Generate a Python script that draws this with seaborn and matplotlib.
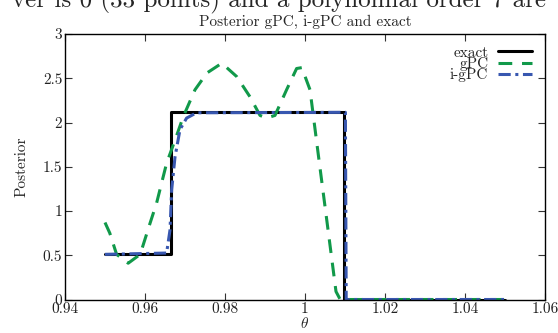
import matplotlib
matplotlib.use("Agg")
import matplotlib.pyplot as plt
import seaborn as sns
import pandas as pd

# ---- data ----
theta_exact = [0.95, 0.9666, 0.9666, 1.0098, 1.0098, 1.05]
post_exact = [0.51, 0.51, 2.115, 2.115, 0.0, 0.0]

theta_gpc = [0.95, 0.9512, 0.9529, 0.9558, 0.9588, 0.96125, 0.9629, 0.9654,
             0.9675, 0.9696, 0.9725, 0.9755, 0.9792, 0.9829, 0.98625, 0.98875,
             0.9904, 0.9925, 0.9954, 0.9979, 0.9992, 1.00125, 1.0034, 1.00555,
             1.00775, 1.0088, 1.01, 1.05]
post_gpc = [0.87, 0.75, 0.51, 0.41, 0.51, 0.86, 1.09, 1.54,
            1.80, 2.07, 2.37, 2.56, 2.67, 2.52, 2.29, 2.08,
            2.05, 2.08, 2.37, 2.61, 2.62, 2.37, 1.61, 0.86,
            0.09, 0.0, 0.0, 0.0]

theta_igpc = [0.95, 0.9654, 0.96625, 0.96667, 0.9675, 0.96875, 0.9704, 0.9729,
              1.0101, 1.0103, 1.05]
post_igpc = [0.51, 0.525, 0.785, 1.24, 1.61, 1.92, 2.05, 2.11,
             2.115, 0.0, 0.0]

xticks = [0.94, 0.96, 0.98, 1.0, 1.02, 1.04, 1.06]
xticklabels = ["0.94", "0.96", "0.98", "1", "1.02", "1.04", "1.06"]
yticks = [0, 0.5, 1, 1.5, 2, 2.5, 3]
yticklabels = ["0", "0.5", "1", "1.5", "2", "2.5", "3"]

sns.set_theme(style="ticks")
plt.rcParams["font.family"] = ["cmr10", "DejaVu Serif"]
plt.rcParams["mathtext.fontset"] = "cm"
plt.rcParams["axes.unicode_minus"] = False

fig = plt.figure(figsize=(5.58, 3.33), dpi=100)
ax = fig.add_axes([65 / 558, 1 - 299.5 / 333, 480 / 558, 265.5 / 333])

df_e = pd.DataFrame({"theta": theta_exact, "post": post_exact})
df_g = pd.DataFrame({"theta": theta_gpc, "post": post_gpc})
df_i = pd.DataFrame({"theta": theta_igpc, "post": post_igpc})

sns.lineplot(data=df_e, x="theta", y="post", ax=ax, sort=False, estimator=None,
             color="black", linewidth=2.2, label="exact")
sns.lineplot(data=df_g, x="theta", y="post", ax=ax, sort=False, estimator=None,
             color="#11994a", linewidth=2.2, label="gPC")
ax.lines[-1].set_dashes([4.5, 3.2])
sns.lineplot(data=df_i, x="theta", y="post", ax=ax, sort=False, estimator=None,
             color="#3857b0", linewidth=2.2, label="i-gPC")
ax.lines[-1].set_dashes([4, 1.5, 1, 1.5])

ax.set_xlim(0.94, 1.06)
ax.set_ylim(0, 3)
ax.set_xticks(xticks)
ax.set_xticklabels(xticklabels)
ax.set_yticks(yticks)
ax.set_yticklabels(yticklabels)
ax.tick_params(direction="in", length=5, width=0.8, top=True, right=True,
               labelsize=11, pad=2, colors="#333333", labelcolor="#222222")
for s in ax.spines.values():
    s.set_linewidth(1.0)
    s.set_color("black")

ax.set_xlabel(r"$\theta$", fontsize=11, labelpad=0)
ax.set_ylabel("Posterior", fontsize=11, labelpad=10)
ax.set_title("Posterior gPC, i-gPC and exact", fontsize=11, pad=6)

leg = ax.legend(loc="upper right", frameon=False, markerfirst=False, fontsize=11,
                handlelength=2.2, handletextpad=0.65, labelspacing=-0.18,
                borderaxespad=0.3, bbox_to_anchor=(0.995, 0.995))

fig.text(0.5, 1 - 7 / 333, "ver is 0 (33 points) and a polynomial order 7 are",
         ha="center", va="baseline", fontsize=18)

fig.savefig("out.png", dpi=100)
